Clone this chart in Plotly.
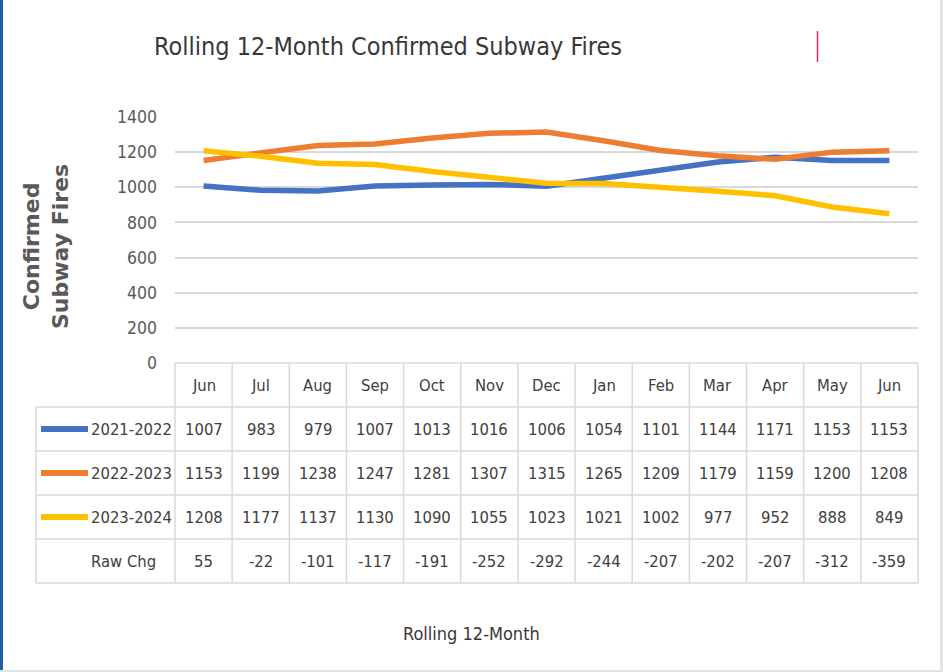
import plotly.graph_objects as go

MONTHS = ["Jun", "Jul", "Aug", "Sep", "Oct", "Nov", "Dec", "Jan", "Feb", "Mar", "Apr", "May", "Jun"]
SERIES_NAMES = ["2021-2022", "2022-2023", "2023-2024"]
FY_2122 = [1007, 983, 979, 1007, 1013, 1016, 1006, 1054, 1101, 1144, 1171, 1153, 1153]
FY_2223 = [1153, 1199, 1238, 1247, 1281, 1307, 1315, 1265, 1209, 1179, 1159, 1200, 1208]
FY_2324 = [1208, 1177, 1137, 1130, 1090, 1055, 1023, 1021, 1002, 977, 952, 888, 849]
RAW_CHG = [55, -22, -101, -117, -191, -252, -292, -244, -207, -202, -207, -312, -359]
Y_TICKS = [0, 200, 400, 600, 800, 1000, 1200, 1400]

SERIES = [FY_2122, FY_2223, FY_2324]
COLORS = ["#4472C4", "#ED7D31", "#FFC000"]

FONT = "DejaVu Sans Condensed, Liberation Sans Narrow, sans-serif"
TEXT = "#404040"
GRID = "#D9D9D9"

# page geometry (px)
W, H = 943, 672
PL, PR = 175, 918          # plot / data columns left & right
PT, PB = 117, 363          # plot top (1400) and bottom (0)
TL = 36                    # table left edge
RH = 44                    # table row height
NCOL = len(MONTHS)
CW = (PR - PL) / NCOL
PAD = 4


def px_to_x2(px):
    return -0.5 + (px - PL) / CW


fig = go.Figure()

for name, vals, col in zip(SERIES_NAMES, SERIES, COLORS):
    fig.add_trace(go.Scatter(
        x=list(range(NCOL)), y=vals, name=name, mode="lines",
        line=dict(color=col, width=5.5), hoverinfo="skip",
        xaxis="x", yaxis="y"
    ))

# invisible trace to set up the table subplot
fig.add_trace(go.Scatter(x=[0], y=[0], mode="markers", marker=dict(opacity=0),
                         xaxis="x2", yaxis="y2", hoverinfo="skip", showlegend=False))

n_rows = 1 + len(SERIES) + 1
table_bottom = PB + n_rows * RH

fig.update_layout(
    template="none",
    width=W, height=H,
    margin=dict(l=0, r=0, t=0, b=0, pad=0),
    paper_bgcolor="white", plot_bgcolor="rgba(0,0,0,0)",
    showlegend=False,
    font=dict(family=FONT, color=TEXT),
    xaxis=dict(domain=[PL / W, PR / W], range=[-0.5, NCOL - 0.5], automargin=False,
               showgrid=False, zeroline=False, showticklabels=False, showline=False, ticks=""),
    yaxis=dict(domain=[1 - PB / H, 1 - PT / H], range=[0, 1400], automargin=False,
               tickvals=Y_TICKS, showgrid=True, gridcolor=GRID, gridwidth=1.5, zeroline=False,
               showline=False, ticks="", ticklabelstandoff=17,
               tickfont=dict(size=17.5, color="#595959", family=FONT)),
    xaxis2=dict(domain=[(TL - PAD) / W, (PR + PAD) / W], automargin=False,
                range=[px_to_x2(TL - PAD), px_to_x2(PR + PAD)],
                visible=False, fixedrange=True),
    yaxis2=dict(domain=[1 - (table_bottom + PAD) / H, 1 - (PB - PAD) / H], automargin=False,
                range=[n_rows - 0.5 + PAD / RH, -0.5 - PAD / RH],
                visible=False, fixedrange=True),
)

# table grid
line = dict(color=GRID, width=1.5)
shapes = []
x_left = px_to_x2(TL)
shapes.append(dict(type="line", xref="x2", yref="y2", x0=-0.5, x1=NCOL - 0.5, y0=-0.5, y1=-0.5, line=line))
for r in range(1, n_rows + 1):
    shapes.append(dict(type="line", xref="x2", yref="y2", x0=x_left, x1=NCOL - 0.5,
                       y0=r - 0.5, y1=r - 0.5, line=line))
for c in range(NCOL + 1):
    shapes.append(dict(type="line", xref="x2", yref="y2", x0=c - 0.5, x1=c - 0.5,
                       y0=-0.5, y1=n_rows - 0.5, line=line))
shapes.append(dict(type="line", xref="x2", yref="y2", x0=x_left, x1=x_left,
                   y0=0.5, y1=n_rows - 0.5, line=line))

# legend keys in table
for i, col in enumerate(COLORS):
    shapes.append(dict(type="line", xref="x2", yref="y2", x0=px_to_x2(41), x1=px_to_x2(88),
                       y0=i + 1, y1=i + 1, line=dict(color=col, width=6)))

# frame decorations
shapes.append(dict(type="rect", xref="paper", yref="paper", x0=0, x1=3 / W, y0=0, y1=1,
                   fillcolor="#1F5FA6", line=dict(width=0)))
shapes.append(dict(type="rect", xref="paper", yref="paper", x0=940 / W, x1=1, y0=0, y1=1,
                   fillcolor="#E3E3E3", line=dict(width=0)))
shapes.append(dict(type="rect", xref="paper", yref="paper", x0=0, x1=1, y0=0, y1=2 / H,
                   fillcolor="#E3E3E3", line=dict(width=0)))
shapes.append(dict(type="line", xref="paper", yref="paper", x0=817.5 / W, x1=817.5 / W,
                   y0=1 - 62 / H, y1=1 - 31 / H, line=dict(color="#E8246C", width=1.5)))
fig.update_layout(shapes=shapes)

annotations = []
cell_font = dict(size=16.5, color=TEXT, family=FONT)
for c, m in enumerate(MONTHS):
    annotations.append(dict(xref="x2", yref="y2", x=c, y=0, text=m, showarrow=False, font=cell_font))
rows = SERIES + [RAW_CHG]
labels = SERIES_NAMES + ["Raw Chg"]
for r, (lab, vals) in enumerate(zip(labels, rows), start=1):
    annotations.append(dict(xref="x2", yref="y2", x=px_to_x2(89), y=r, text=lab,
                            xanchor="left", showarrow=False, font=cell_font))
    for c, v in enumerate(vals):
        annotations.append(dict(xref="x2", yref="y2", x=c, y=r, text=str(v),
                                showarrow=False, font=cell_font))

annotations.append(dict(xref="paper", yref="paper", x=152 / W, y=1 - 47 / H,
                        text="Rolling 12-Month Confirmed Subway Fires", showarrow=False,
                        xanchor="left", yanchor="middle",
                        font=dict(size=25, color="#383838", family=FONT)))
annotations.append(dict(xref="paper", yref="paper", x=471 / W, y=1 - 633 / H,
                        text="Rolling 12-Month", showarrow=False,
                        xanchor="center", yanchor="middle",
                        font=dict(size=18, color="#383838", family=FONT)))
annotations.append(dict(xref="paper", yref="paper", x=46 / W, y=1 - 247 / H,
                        text="<b>Confirmed<br>Subway Fires</b>", showarrow=False, textangle=-90,
                        xanchor="center", yanchor="middle",
                        font=dict(size=22, color="#595959", family="DejaVu Sans, Verdana, sans-serif")))
fig.update_layout(annotations=annotations)

fig.write_html("out.html", config={"displayModeBar": False},
               post_script="document.body.style.margin='0';")
